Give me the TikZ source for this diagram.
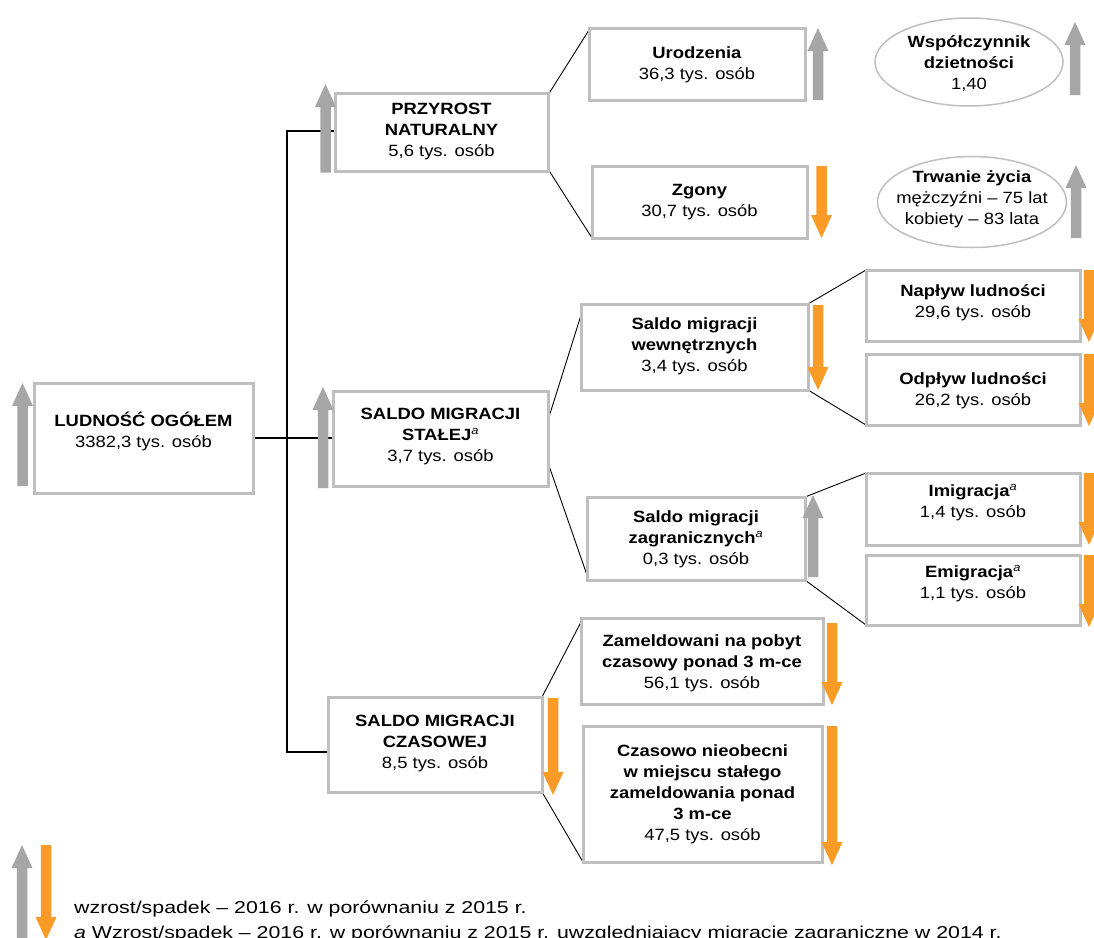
\documentclass[tikz,border=0pt]{standalone}
\usepackage{fontspec}
\setmainfont[FakeStretch=1.13]{Liberation Sans}
\newfontfamily\legfont[FakeStretch=1.24]{Liberation Sans}
\usetikzlibrary{shapes.geometric,calc,backgrounds}
\definecolor{boxgray}{RGB}{191,191,191}
\definecolor{arrgray}{RGB}{166,166,166}
\definecolor{arrorange}{RGB}{250,155,40}
% #1 colour, #2 centre x, #3 top y, #4 bottom y
\newcommand{\ArrUp}[4]{\fill[#1] (#2-5.25,#4) -- (#2-5.25,#3+23) -- (#2-10.5,#3+23) -- (#2,#3) -- (#2+10.5,#3+23) -- (#2+5.25,#3+23) -- (#2+5.25,#4) -- cycle;}
\newcommand{\ArrDn}[4]{\fill[#1] (#2-5.25,#3) -- (#2+5.25,#3) -- (#2+5.25,#4-23) -- (#2+10.5,#4-23) -- (#2,#4) -- (#2-10.5,#4-23) -- (#2-5.25,#4-23) -- cycle;}
\newcommand{\supa}{\textsuperscript{\normalfont\itshape a}}
\begin{document}
\begin{tikzpicture}[x=1pt,y=-1pt,
  box/.style={draw=boxgray, line width=3pt, fill=white, inner sep=0pt, outer sep=0pt},
  oval/.style={ellipse, draw=boxgray, line width=1.5pt, fill=white, inner sep=0pt, outer sep=0pt},
  txt/.style={align=center, inner sep=0pt, font=\fontsize{16.3}{21}\selectfont,
    execute at begin node={\rule{0pt}{16pt}}, execute at end node={\rule[-4pt]{0pt}{4pt}}},
  leg/.style={inner sep=0pt, anchor=base west, font=\legfont\fontsize{17.2}{21}\selectfont},
  mainline/.style={black, line width=1.3pt},
  diag/.style={black, line width=0.9pt}]
\useasboundingbox (0,0) rectangle (1094,937);

% boxes
\node[box, minimum width=219, minimum height=110] (lud) at (143.5,438) {};
\node[box, minimum width=213, minimum height=78] (prz) at (441.5,132) {};
\node[box, minimum width=215, minimum height=95] (sta) at (440.5,438.5) {};
\node[box, minimum width=214, minimum height=95] (cza) at (435,744.5) {};
\node[box, minimum width=216, minimum height=72] (uro) at (697,64) {};
\node[box, minimum width=215, minimum height=72] (zgo) at (699.5,202) {};
\node[box, minimum width=227, minimum height=86] (wew) at (694.5,347) {};
\node[box, minimum width=218, minimum height=83] (zag) at (696,538.5) {};
\node[box, minimum width=214, minimum height=71] (nap) at (973,305.5) {};
\node[box, minimum width=214, minimum height=71] (odp) at (973,389.5) {};
\node[box, minimum width=214, minimum height=72] (imi) at (973,509) {};
\node[box, minimum width=214, minimum height=70] (emi) at (973,590) {};
\node[box, minimum width=242, minimum height=86] (zam) at (702,661) {};
\node[box, minimum width=239, minimum height=136] (czn) at (702.5,794) {};
\node[oval, minimum width=188, minimum height=88] (wsp) at (969,62) {};
\node[oval, minimum width=189, minimum height=91] (trw) at (972,202) {};

% connectors
\begin{scope}[on background layer]
\fill[white] (0,0) rectangle (1094,937);
\coordinate (jP) at (287,131);
\coordinate (jS) at (287,438);
\coordinate (jC) at (287,752);
\draw[mainline] (lud.east |- jS) -- (jS -| sta.west);
\draw[mainline] (jP -| prz.west) -- (jP) -- (jC) -- (jC -| cza.west);
\draw[diag] ($(prz.north east)+(0,2)$) -- ($(uro.north west)+(0,2)$);
\draw[diag] ($(prz.south east)+(0,-2)$) -- (zgo.south west);
\draw[diag] ($(sta.north east)+(0,29)$) -- ($(wew.north west)+(1,8)$);
\draw[diag] ($(sta.south east)+(-1,-26)$) -- ($(zag.south west)+(1,-2)$);
\draw[diag] (wew.north east) -- (nap.north west);
\draw[diag] (wew.south east) -- (odp.south west);
\draw[diag] (zag.north east) -- (imi.north west);
\draw[diag] (zag.south east) -- (emi.south west);
\draw[diag] (cza.north east) -- ($(zam.north west)+(0,4)$);
\draw[diag] (cza.south east) -- (czn.south west);
\end{scope}

% trend arrows
\ArrUp{arrgray}{22.5}{383}{486}
\ArrUp{arrgray}{325.5}{84}{172.5}
\ArrUp{arrgray}{323}{387}{488}
\ArrUp{arrgray}{818}{28}{100}
\ArrUp{arrgray}{1075}{22}{95}
\ArrUp{arrgray}{1076}{165}{238}
\ArrUp{arrgray}{813}{495}{577}
\ArrDn{arrorange}{821.5}{166}{238}
\ArrDn{arrorange}{818}{305}{390}
\ArrDn{arrorange}{1089}{270}{342}
\ArrDn{arrorange}{1089}{354}{426}
\ArrDn{arrorange}{1089}{473}{545}
\ArrDn{arrorange}{1089}{555}{627}
\ArrDn{arrorange}{832}{623}{705}
\ArrDn{arrorange}{832}{726}{865}
\ArrDn{arrorange}{553}{698}{795}

% texts
\node[txt] (lud-t) at (143.5,431.5) {\textbf{LUDNOŚĆ OGÓŁEM}\\3382,3 tys. osób};
\node[txt] (prz-t) at (441.5,132) {\textbf{PRZYROST}\\\textbf{NATURALNY}\\5,6 tys. osób};
\node[txt] (sta-t) at (440.5,437) {\textbf{SALDO MIGRACJI}\\\textbf{STAŁEJ}\supa\\3,7 tys. osób};
\node[txt] (cza-t) at (435,744) {\textbf{SALDO MIGRACJI}\\\textbf{CZASOWEJ}\\8,5 tys. osób};
\node[txt] (uro-t) at (697,64.7) {\textbf{Urodzenia}\\36,3 tys. osób};
\node[txt] (zgo-t) at (699.5,202) {\textbf{Zgony}\\30,7 tys. osób};
\node[txt] (wew-t) at (694.5,347) {\textbf{Saldo migracji}\\\textbf{wewnętrznych}\\3,4 tys. osób};
\node[txt] (zag-t) at (696,540) {\textbf{Saldo migracji}\\\textbf{zagranicznych}\supa\\0,3 tys. osób};
\node[txt] (nap-t) at (973,303.5) {\textbf{Napływ ludności}\\29,6 tys. osób};
\node[txt] (odp-t) at (973,391) {\textbf{Odpływ ludności}\\26,2 tys. osób};
\node[txt] (imi-t) at (973,503) {\textbf{Imigracja}\supa\\1,4 tys. osób};
\node[txt] (emi-t) at (973,584) {\textbf{Emigracja}\supa\\1,1 tys. osób};
\node[txt] (zam-t) at (702,663.5) {\textbf{Zameldowani na pobyt}\\\textbf{czasowy ponad 3 m-ce}\\56,1 tys. osób};
\node[txt] (czn-t) at (702.5,794.5) {\textbf{Czasowo nieobecni}\\\textbf{w miejscu stałego}\\\textbf{zameldowania ponad}\\\textbf{3 m-ce}\\47,5 tys. osób};
\node[txt] (wsp-t) at (969,64.5) {\textbf{Współczynnik}\\\textbf{dzietności}\\1,40};
\node[txt] (trw-t) at (972,200) {\textbf{Trwanie życia}\\mężczyźni – 75 lat\\kobiety – 83 lata};

% legend
\ArrUp{arrgray}{22}{845}{945}
\ArrDn{arrorange}{46}{845}{940}
\node[leg] (leg1) at (74,913) {wzrost/spadek – 2016 r. w porównaniu z 2015 r.};
\node[leg] (leg2) at (74,938) {\textit{a} Wzrost/spadek – 2016 r. w porównaniu z 2015 r. uwzględniający migracje zagraniczne w 2014 r.};
\end{tikzpicture}
\end{document}
